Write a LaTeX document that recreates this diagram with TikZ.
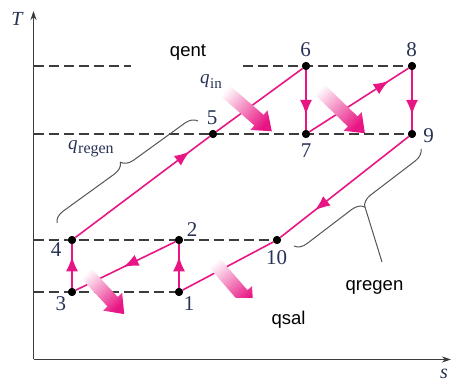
\documentclass[tikz,border=0pt]{standalone}
\usepackage{fontspec}
\setmainfont{Liberation Serif}
\newfontfamily\sansf{Liberation Sans}
\usetikzlibrary{arrows.meta,decorations.markings,decorations.pathreplacing,calc}
\definecolor{pk}{RGB}{232,22,132}
\definecolor{nv}{RGB}{40,50,85}
\definecolor{ax}{RGB}{60,60,60}
\definecolor{br}{RGB}{85,85,85}
\newcommand\fatarr[4]{%
  \begin{scope}[shift={(#1,#2)},rotate=-#3]
    \coordinate (fa1) at (0,7);
    \coordinate (fa2) at (#4-17,7);
    \coordinate (fa3) at (#4-17,13);
    \coordinate (fa4) at (#4,0);
    \coordinate (fa5) at (#4-17,-13);
    \coordinate (fa6) at (#4-17,-7);
    \coordinate (fa7) at (0,-7);
  \end{scope}
  \pgfmathsetmacro\faang{90-#3}
  \shade[top color=white, bottom color=pk, shading angle=\faang]
    (fa1) -- (fa2) -- (fa3) -- (fa4) -- (fa5) -- (fa6) -- (fa7) -- cycle;}
\tikzset{
  dot/.style={circle, fill=black, inner sep=0pt, minimum size=8pt},
  num/.style={font=\fontsize{21}{21}\selectfont, text=nv, inner sep=0pt},
  guide/.style={dash pattern=on 10pt off 5pt, line width=1.1pt, draw=ax},
  flow/.style={line width=1.6pt, draw=pk, color=pk},
  midarrow/.style={postaction={decorate}, decoration={markings,
      mark=at position #1 with {\arrow{Latex[length=15pt,width=12pt]}}}},
  bracex/.style={decorate, decoration={brace, amplitude=12pt}, draw=br, line width=1pt},
  lbl/.style={font=\sansf\fontsize{18.5}{18.5}\selectfont, inner sep=0pt, anchor=base},
  axisline/.style={line width=1.5pt, draw=ax, -{Stealth[length=9pt,width=6pt]}},
}
\begin{document}
\begin{tikzpicture}[x=1pt, y=-1pt]
\useasboundingbox (0,0) rectangle (451,382);
% axes
\coordinate (O) at (33.5,359.5);
\coordinate (Ytop) at (33.5,11);
\coordinate (Xend) at (451,359.5);
\draw[axisline] (O) -- (Ytop);
\draw[axisline] (O) -- (Xend);
\node[font=\fontsize{20}{20}\selectfont\itshape, text=nv, inner sep=0pt] (T) at (17,18.5) {T};
\node[font=\fontsize{20}{20}\selectfont\itshape, text=nv, inner sep=0pt] (S) at (444,374) {s};
% state points
\node[dot] (p1) at (179,292) {};
\node[dot] (p2) at (179,240) {};
\node[dot] (p3) at (72,292) {};
\node[dot] (p4) at (72,240) {};
\node[dot] (p5) at (213,134) {};
\node[dot] (p6) at (306,66) {};
\node[dot] (p7) at (306,134) {};
\node[dot] (p8) at (412,66) {};
\node[dot] (p9) at (412,134) {};
\node[dot] (p10) at (277,240) {};
% guide coordinates on axis
\coordinate (a66) at (33.5,66);
\coordinate (g66a) at (131,66);
\coordinate (g66b) at (243,66);
\coordinate (a134) at (33.5,134);
\coordinate (a240) at (33.5,240);
\coordinate (a292) at (33.5,292);
\draw[guide] (a66) -- (g66a);
\draw[guide] (g66b) -- (p6.center) -- (p8.center);
\draw[guide] (a134) -- (p9.center);
\draw[guide] (a240) -- (p10.center);
\draw[guide] (a292) -- (p1.center);
% cycle lines
\draw[flow, midarrow=0.85] (p4) -- (p5);
\draw[flow] (p5) -- (p6);
\draw[flow, midarrow=0.75] (p6) -- (p7);
\draw[flow, midarrow=0.8] (p7) -- (p8);
\draw[flow, midarrow=0.75] (p8) -- (p9);
\draw[flow, midarrow=0.73] (p9) -- (p10);
\draw[flow] (p10) -- (p1);
\draw[flow, midarrow=0.72] (p1) -- (p2);
\draw[flow, midarrow=0.52] (p2) -- (p3);
\draw[flow, midarrow=0.72] (p3) -- (p4);
% redraw dots above lines
\foreach \p in {p1,p2,p3,p4,p5,p6,p7,p8,p9,p10} \fill (\p) circle (4pt);
% heat arrows
\fatarr{222}{88}{41}{66}
\fatarr{316}{86}{44}{68}
\fatarr{84}{271}{47}{59}
\begin{scope}
  \clip (0,0) rectangle (451,298);
  \fatarr{212}{260}{49}{63}
\end{scope}
% braces
\coordinate (ub1) at (57,223);
\coordinate (ub2) at (198,121);
\draw[bracex] (ub1) -- (ub2);
\coordinate (lb1) at (421,149);
\coordinate (lb2) at (294,246);
\draw[bracex] (lb1) -- (lb2);
\coordinate (ltip) at (365,207);
\coordinate (lend) at (382,262);
\draw[br, line width=1pt] (ltip) -- (lend);
% numbers
\node[num] (n1) at (189,303.5) {1};
\node[num] (n2) at (192,230) {2};
\node[num] (n3) at (61,303.5) {3};
\node[num] (n4) at (56,250) {4};
\node[num] (n5) at (212,117.5) {5};
\node[num] (n6) at (305.5,50) {6};
\node[num] (n7) at (306,150.5) {7};
\node[num] (n8) at (411.5,50) {8};
\node[num] (n9) at (428.5,135.5) {9};
\node[num] (n10) at (276.5,257.5) {10};
% q labels
\node[anchor=base west, inner sep=0pt, text=nv] (qin) at (200,84)
  {\fontsize{19}{19}\selectfont\itshape q\kern0.5pt\raisebox{-5pt}{\upshape\fontsize{15}{15}\selectfont in}};
\node[anchor=base west, inner sep=0pt, text=nv] (qregen) at (68,150)
  {\fontsize{19}{19}\selectfont\itshape q\kern0.5pt\raisebox{-4pt}{\upshape\fontsize{16}{16}\selectfont regen}};
% sans labels
\node[lbl] (qent) at (188,57) {qent};
\node[lbl] (qreg) at (374.5,291) {qregen};
\node[lbl] (qsal) at (288.5,325) {qsal};
\end{tikzpicture}
\end{document}
